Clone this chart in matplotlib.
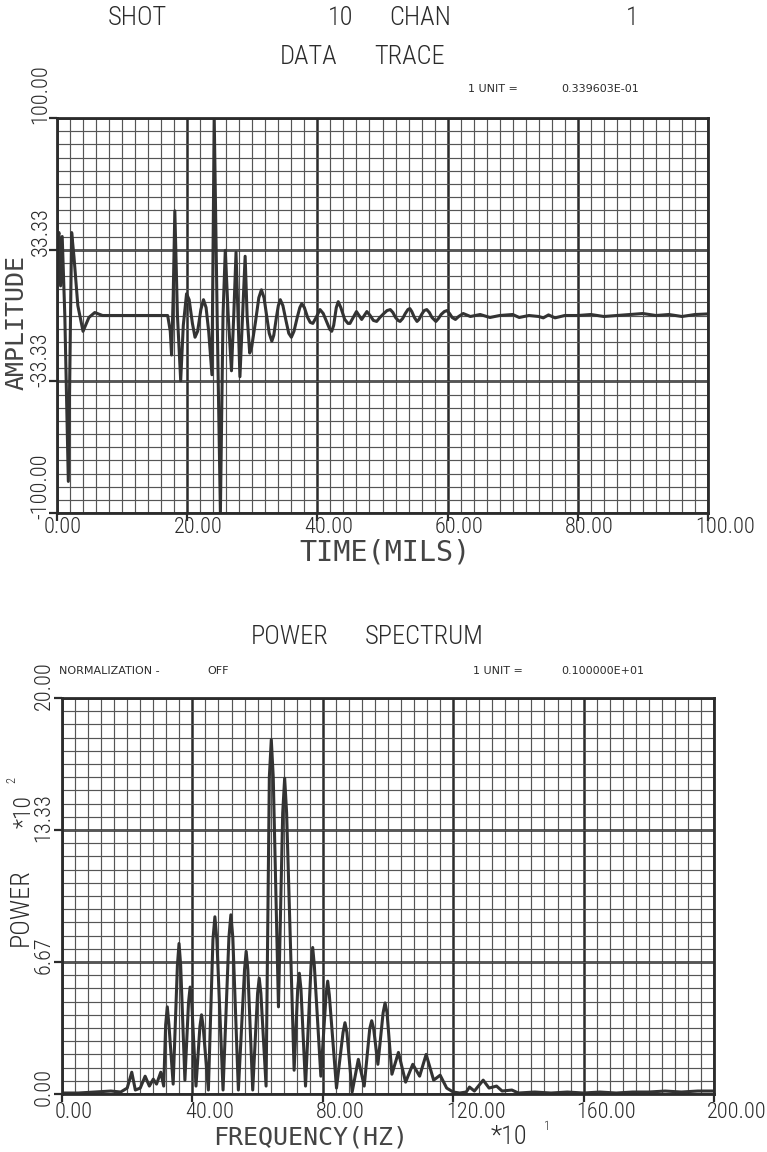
import matplotlib
matplotlib.use("Agg")
import matplotlib.pyplot as plt
import matplotlib.transforms as mtransforms
import numpy as np

# ---------------- data ----------------
# Data trace: time (mils) vs amplitude
trace_t = [0.0, 0.3, 0.55, 0.8, 1.2, 1.74, 2.0, 2.25, 2.6, 3.2, 4.0, 4.9, 5.8, 7.0,
           17.0, 17.4, 17.6, 17.85, 18.1, 18.5, 19.0, 19.4, 19.9, 20.3, 20.8, 21.2, 21.6,
           22.1, 22.5, 22.9, 23.3, 23.8, 24.15, 24.6, 25.1, 25.5, 25.85, 26.3, 26.8, 27.15,
           27.5, 27.8, 28.1, 28.5, 28.9, 29.2, 29.6, 29.9, 30.5, 31.0, 31.4, 31.8, 32.2,
           32.6, 33.0, 33.3, 33.7, 34.0, 34.3, 34.7, 35.2, 35.6, 36.0, 36.4, 36.9, 37.3,
           37.6, 38.0, 38.5, 38.9, 39.3, 39.8, 40.4, 40.9, 41.4, 41.9, 42.2, 42.5, 42.9,
           43.2, 43.6, 44.2, 44.7, 45.0, 45.5, 46.0, 46.4, 46.8, 47.2, 47.6, 48.1, 48.6,
           49.1, 49.6, 50.2, 50.7, 51.2, 51.6, 52.0, 52.4, 52.7, 53.1, 53.5, 53.9, 54.2,
           54.5, 54.9, 55.3, 55.6, 56.0, 56.4, 56.8, 57.2, 57.6, 58.2, 58.6, 59.0, 59.5,
           59.9, 60.3, 60.7, 61.2, 61.7, 62.4, 63.5, 65.0, 66.5, 68.0, 70.0, 71.0, 72.5,
           74.0, 74.7, 75.5, 76.5, 78.0, 80.0, 82.0, 84.0, 86.0, 88.0, 90.0, 92.0, 94.0,
           96.0, 98.0, 100.0]
trace_a = [38, 42, 15, 40, 0, -84, -20, 42, 30, 5, -8, -1, 1.5, 0,
           0, -8, -20, 10, 53, 0, -33, -5, 11, 8, -4, -11, -8,
           3, 8, 4, -8, -30, 100, 0, -100, 0, 33, 0, -28, 0,
           32, 0, -31, 0, 30, 0, -19, -16, -3, 9, 13, 9, 0,
           -9, -13, -10, -1, 5, 8, 5, -3, -9, -11, -8, -1, 4,
           6, 4, -1, -3.5, -4, -1, 3, 1, -3, -7, -8, -5, 4,
           7, 4, -2, -4, -4, -1, 2, 0, -2, 0, 2, 0, -2.5,
           -3, -1, 1, 2.5, 3, 1.5, -1, -2.5, -3, -1.5, 1, 3, 3.5,
           2, -1, -3, -2, 0.5, 2.5, 3, 1.5, -1, -3, -1.5, 0.5, 2,
           2.5, 1, -1, -2, -0.5, 1, -0.5, 0.5, -1, 0, 0.5, -1, 0,
           -0.5, -1.2, 0.3, -1.2, 0, 0, 0.5, -0.5, 0, 0.5, 1, 0, 0.5,
           -0.5, 0.5, 0.8]

# Power spectrum: frequency (*10 Hz) vs power (*10^2)
spec_f = [0, 5, 10, 15, 18, 20, 21.4, 22.5, 24, 25.5, 26.8, 28, 29, 30.3, 31.2,
          31.8, 32.3, 32.8, 34.1, 35.4, 35.9, 36.4, 37.7, 38.8, 39.3, 39.8, 41.1,
          42.3, 42.8, 43.3, 44.9, 46.3, 46.9, 47.5, 49.4, 51.2, 51.8, 52.4, 54.1,
          56.0, 56.5, 57.0, 58.5, 60.0, 60.5, 61.0, 62.6, 63.6, 64.2, 64.8, 66.4,
          67.7, 68.3, 68.9, 71.2, 72.3, 72.8, 73.3, 74.7, 76.4, 76.9, 77.4, 79.4,
          81.0, 81.5, 82.0, 84.2, 86.2, 86.8, 87.4, 89.0, 90.9, 92.7, 94.4, 95.0,
          95.6, 96.9, 98.5, 99.1, 99.7, 101.2, 103.2, 105.4, 107.6, 109.7, 111.7,
          114.0, 116.0, 118.0, 120.0, 122.0, 124.0, 125.0, 126.5, 129.2, 131.0,
          133.3, 135.0, 138.0, 140.0, 145.0, 150.0, 155.0, 160.0, 165.0, 170.0,
          175.0, 180.0, 185.0, 190.0, 195.0, 200.0]
spec_p = [0.05, 0.05, 0.1, 0.15, 0.1, 0.3, 1.1, 0.2, 0.3, 0.9, 0.4, 0.75, 0.5, 1.1, 0.4,
          3.5, 4.4, 3.5, 0.5, 6.5, 7.6, 6.5, 0.7, 4.6, 5.4, 4.6, 0.4,
          3.4, 4.0, 3.4, 0.2, 7.8, 8.95, 7.8, 0.2, 7.9, 9.05, 7.9, 0.2,
          6.3, 7.2, 6.3, 0.2, 5.1, 5.85, 5.1, 0.4, 16.0, 17.9, 16.0, 4.4,
          14.2, 15.95, 14.2, 1.2, 5.3, 6.1, 5.3, 0.4, 6.5, 7.4, 6.5, 0.9,
          5.0, 5.7, 5.0, 0.3, 3.1, 3.6, 3.1, 0.1, 1.75, 0.4, 3.3, 3.7,
          3.3, 1.5, 4.1, 4.6, 4.1, 1.0, 2.1, 0.6, 1.5, 0.9, 2.0,
          0.7, 0.95, 0.3, 0.1, 0.05, 0.1, 0.35, 0.15, 0.7, 0.3,
          0.4, 0.15, 0.2, 0.05, 0.1, 0.05, 0.1, 0.05, 0.1, 0.05,
          0.1, 0.1, 0.15, 0.1, 0.15, 0.15]

trace_xticks = [0, 20, 40, 60, 80, 100]
trace_yticks = [-100, -33.33, 33.33, 100]
spec_xticks = [0, 40, 80, 120, 160, 200]
spec_yticks = [0, 6.67, 13.33, 20]

# ---------------- style ----------------
FONT = ['Roboto Condensed', 'Liberation Sans Narrow', 'Roboto', 'DejaVu Sans']
FKW = dict(family=FONT, fontweight='light', fontstretch='condensed')
WIDE = dict(family=['DejaVu Sans Mono', 'DejaVu Sans'])
SMALL = dict(family=['DejaVu Sans'])
INK = '#2b2b2b'
SOFT = '#444444'
GRIDMINOR = '#555555'

W, H = 767, 1152
fig = plt.figure(figsize=(W / 100, H / 100), dpi=100)
fig.patch.set_facecolor('white')


def fx(x):
    return x / W


def fy(y):
    return 1 - y / H


def ftext(x, y, s, size, ha='center', va='center', style=None, color=INK, **kw):
    st = FKW if style is None else style
    fig.text(fx(x), fy(y), s, fontsize=size, ha=ha, va=va, color=color, **st, **kw)


def setup_axes(ax, xlim, ylim, xmajor, xminor, ymajor, yminor):
    ax.set_xlim(*xlim)
    ax.set_ylim(*ylim)
    ax.set_xticks(xmajor)
    ax.set_xticks(xminor, minor=True)
    ax.set_yticks(ymajor)
    ax.set_yticks(yminor, minor=True)
    ax.grid(which='minor', color=GRIDMINOR, lw=0.85)
    ax.grid(which='major', color=INK, lw=1.8)
    ax.set_axisbelow(True)
    ax.tick_params(which='major', length=6, width=1.6, color=INK, direction='out',
                   labelbottom=False, labelleft=False)
    ax.tick_params(which='minor', length=0)
    for s in ax.spines.values():
        s.set_color(INK)
        s.set_linewidth(2.0)


# ---------------- top: data trace ----------------
ax1 = fig.add_axes([fx(57), fy(513), 651 / W, 395 / H])
setup_axes(ax1, (0, 100), (-100, 100), trace_xticks, np.arange(0, 100.01, 2),
           trace_yticks, np.linspace(-100, 100, 31))
ax1.plot(trace_t, trace_a, color='#333333', lw=2.2, solid_joinstyle='round')

bx1 = mtransforms.blended_transform_factory(ax1.transData, fig.transFigure)
off = mtransforms.ScaledTranslation(-13 / 100, 0, fig.dpi_scale_trans)
for v in trace_xticks:
    ax1.text(v, fy(528), f"{v:.2f}", transform=bx1 + off, fontsize=16,
             ha='left', va='center', color=INK, clip_on=False, **FKW)
by1 = mtransforms.blended_transform_factory(fig.transFigure, ax1.transData)
offy = mtransforms.ScaledTranslation(0, -6 / 100, fig.dpi_scale_trans)
for v in trace_yticks:
    ax1.text(fx(41), v, f"{v:.2f}", transform=by1 + offy, fontsize=16,
             rotation=90, rotation_mode='anchor', ha='left', va='center',
             color=INK, clip_on=False, **FKW)

ftext(137, 18, 'SHOT', 19)
ftext(341, 18, '10', 19)
ftext(420, 18, 'CHAN', 19)
ftext(632, 18, '1', 19)
ftext(309, 57, 'DATA', 19)
ftext(410, 57, 'TRACE', 19)
ftext(468, 89, '1 UNIT =', 8, ha='left', style=SMALL)
ftext(561, 89, '0.339603E-01', 8, ha='left', style=SMALL)
ftext(385, 553, 'TIME(MILS)', 20.5, style=WIDE, color=SOFT)
ftext(17, 322, 'AMPLITUDE', 18, rotation=90, style=WIDE, color=SOFT)

# ---------------- bottom: power spectrum ----------------
ax2 = fig.add_axes([fx(62), fy(1094), 652 / W, 396 / H])
setup_axes(ax2, (0, 200), (0, 20), spec_xticks, np.arange(0, 200.01, 4),
           spec_yticks, np.linspace(0, 20, 31))
ax2.plot(spec_f, spec_p, color='#333333', lw=2.2, solid_joinstyle='round')

bx2 = mtransforms.blended_transform_factory(ax2.transData, fig.transFigure)
off2 = mtransforms.ScaledTranslation(-7 / 100, 0, fig.dpi_scale_trans)
for v in spec_xticks:
    ax2.text(v, fy(1113), f"{v:.2f}", transform=bx2 + off2, fontsize=16,
             ha='left', va='center', color=INK, clip_on=False, **FKW)
by2 = mtransforms.blended_transform_factory(fig.transFigure, ax2.transData)
offy2 = mtransforms.ScaledTranslation(0, -12 / 100, fig.dpi_scale_trans)
for v in spec_yticks:
    ax2.text(fx(44), v, f"{v:.2f}", transform=by2 + offy2, fontsize=16,
             rotation=90, rotation_mode='anchor', ha='left', va='center',
             color=INK, clip_on=False, **FKW)

ftext(290, 637, 'POWER', 19)
ftext(424, 637, 'SPECTRUM', 19)
ftext(59, 671, 'NORMALIZATION -', 8, ha='left', style=SMALL)
ftext(207, 671, 'OFF', 8, ha='left', style=SMALL)
ftext(473, 671, '1 UNIT =', 8, ha='left', style=SMALL)
ftext(561, 671, '0.100000E+01', 8, ha='left', style=SMALL)
ftext(21, 907, 'POWER', 19, rotation=90)
ftext(24, 812, '*10', 17, rotation=90)
ftext(12, 780, '2', 9, rotation=90)
ftext(311, 1137, 'FREQUENCY(HZ)', 18, style=WIDE, color=SOFT)
ftext(509, 1137, '*10', 19)
ftext(547, 1126, '1', 9)

fig.savefig('out.png', dpi=100, facecolor='white')
